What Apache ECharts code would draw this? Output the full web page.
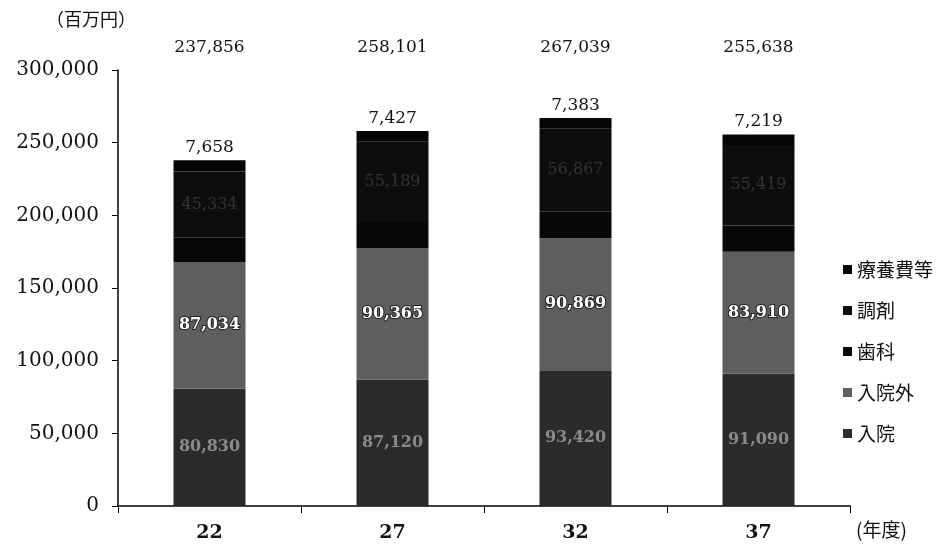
<!DOCTYPE html>
<html>
<head>
<meta charset="utf-8">
<script src="https://cdn.jsdelivr.net/npm/echarts@6/dist/echarts.min.js"></script>
<style>html,body{margin:0;padding:0;background:#fff;}#c{width:945px;height:556px;}</style>
</head>
<body>
<div id="c"></div>
<script>
var years = ['22', '27', '32', '37'];
var nyuin = [80830, 87120, 93420, 91090];
var nyuingai = [87034, 90365, 90869, 83910];
var shika = [17000, 18000, 18500, 18000];
var chozai = [45334, 55189, 56867, 55419];
var ryoyohi = [7658, 7427, 7383, 7219];
var totals = [237856, 258101, 267039, 255638];
var yTicks = [0, 50000, 100000, 150000, 200000, 250000, 300000];

function fmt(v) { return Number(v).toLocaleString('en-US'); }

var serif = 'DejaVu Serif';
var jp = 'Noto Sans CJK JP';

var chart = echarts.init(document.getElementById('c'));
chart.setOption({
  animation: false,
  backgroundColor: '#fff',
  grid: { left: 118, right: 95, top: 70, bottom: 50 },
  graphic: [
    { type: 'text', left: 46, top: 10, style: { text: '（百万円）', font: '18px "' + jp + '"', fill: '#111' } },
    { type: 'text', left: 856, top: 520, style: { text: '(年度)', font: '19px "' + jp + '"', fill: '#111' } }
  ],
  legend: {
    orient: 'vertical',
    left: 838,
    top: 255,
    itemWidth: 9,
    itemHeight: 9,
    itemGap: 22,
    icon: 'rect',
    data: ['療養費等', '調剤', '歯科', '入院外', '入院'],
    textStyle: { fontFamily: jp, fontSize: 19, color: '#111' }
  },
  xAxis: [
    {
      type: 'category',
      data: years,
      axisLine: { lineStyle: { color: '#000', width: 1.5 } },
      axisTick: { show: true, length: 7, lineStyle: { color: '#000' } },
      axisLabel: { margin: 18, fontFamily: serif, fontWeight: 'bold', fontSize: 19, color: '#111' }
    },
    {
      type: 'category',
      position: 'top',
      data: totals.map(fmt),
      axisLine: { show: false },
      axisTick: { show: false },
      axisLabel: { margin: 14, fontFamily: serif, fontSize: 17, color: '#111' }
    }
  ],
  yAxis: {
    type: 'value',
    min: 0,
    max: 300000,
    interval: 50000,
    splitLine: { show: false },
    axisLine: { show: true, lineStyle: { color: '#000', width: 1.5 } },
    axisTick: { show: true, length: 6, lineStyle: { color: '#000' } },
    axisLabel: {
      margin: 19,
      fontFamily: serif,
      fontSize: 20,
      color: '#111',
      formatter: function (v) { return yTicks.indexOf(v) >= 0 ? fmt(v) : ''; }
    }
  },
  series: [
    {
      name: '入院', type: 'bar', stack: 't', data: nyuin, barWidth: 72,
      itemStyle: { color: '#2b2b2b' },
      label: { show: true, position: 'inside', formatter: function (p) { return fmt(p.value); },
        fontFamily: serif, fontSize: 16, fontWeight: 'bold', color: '#8a8a8a' }
    },
    {
      name: '入院外', type: 'bar', stack: 't', data: nyuingai,
      itemStyle: { color: '#5e5e5e' },
      label: { show: true, position: 'inside', formatter: function (p) { return fmt(p.value); },
        fontFamily: serif, fontSize: 16, fontWeight: 'bold', color: '#fff', textBorderColor: '#222', textBorderWidth: 2 }
    },
    {
      name: '歯科', type: 'bar', stack: 't', data: shika,
      itemStyle: { color: '#080808' }
    },
    {
      name: '調剤', type: 'bar', stack: 't', data: chozai,
      itemStyle: { color: '#0d0d0d' },
      label: { show: true, position: 'inside', formatter: function (p) { return fmt(p.value); },
        fontFamily: serif, fontSize: 16, color: '#333' }
    },
    {
      name: '療養費等', type: 'bar', stack: 't', data: ryoyohi,
      itemStyle: { color: '#050505' },
      label: { show: true, position: 'top', distance: 4, formatter: function (p) { return fmt(p.value); },
        fontFamily: serif, fontSize: 17, color: '#111' }
    }
  ]
});
</script>
</body>
</html>
